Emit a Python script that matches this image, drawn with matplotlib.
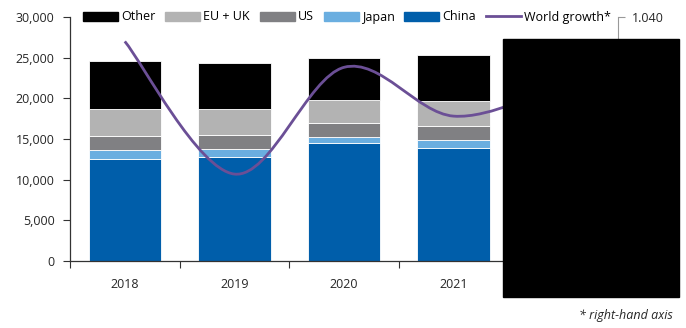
import numpy as np
import matplotlib.pyplot as plt
from matplotlib.path import Path
from matplotlib.patches import PathPatch, Patch, Rectangle
from matplotlib.lines import Line2D
from matplotlib.ticker import FuncFormatter

plt.rcParams['font.family'] = ['Open Sans', 'DejaVu Sans']
plt.rcParams['font.size'] = 9

# data (2022 sits under the redaction box)
years = ['2018', '2019', '2020', '2021', '2022']
china = [12600, 12800, 14450, 13950, 14000]
japan = [1000, 970, 850, 900, 850]
us = [1800, 1730, 1700, 1800, 1800]
eu_uk = [3250, 3150, 2800, 3050, 3000]
other = [5900, 5750, 5200, 5650, 5600]
world_growth = [1.032, 0.9885, 1.0235, 1.0075, 1.018]

series = [('China', china, '#005eaa'),
          ('Japan', japan, '#6aaee0'),
          ('US', us, '#808083'),
          ('EU + UK', eu_uk, '#b3b3b3'),
          ('Other', other, '#000000')]
line_color = '#6b4f96'

fig = plt.figure(figsize=(6.86, 3.28), dpi=100)
ax = fig.add_axes([70 / 686, 1 - 261 / 328, 548 / 686, 244 / 328])
x = np.arange(len(years))

bottom = np.zeros(len(years))
for name, vals, col in series:
    ax.bar(x, vals, 0.66, bottom=bottom, color=col, edgecolor='white', linewidth=0.6)
    bottom += np.array(vals)

ax.set_xlim(-0.5, len(years) - 0.5)
ax.set_ylim(0, 30000)
ax.set_yticks(range(0, 30001, 5000))
ax.yaxis.set_major_formatter(FuncFormatter(lambda v, p: f'{int(v):,}'))
ax.set_xticks(x)
ax.set_xticklabels(years)
ax.set_xticks(np.arange(-0.5, len(years), 1), minor=True)
ax.tick_params(axis='x', which='major', length=0, pad=12, colors='#262626')
ax.tick_params(axis='x', which='minor', length=5, width=0.8, color='#333333')
ax.tick_params(axis='y', length=5, width=0.8, color='#333333', labelcolor='#262626', pad=6)
for s in ['top', 'right']:
    ax.spines[s].set_visible(False)
for s in ['left', 'bottom']:
    ax.spines[s].set_color('#333333')
    ax.spines[s].set_linewidth(0.9)

# right-hand axis with smoothed world growth line
ax2 = ax.twinx()
ax2.set_ylim(0.96, 1.04)
ax2.set_yticks(np.arange(0.96, 1.0401, 0.02))
ax2.yaxis.set_major_formatter(FuncFormatter(lambda v, p: f'{v:.3f}'))
ax2.tick_params(axis='y', length=5, width=0.8, color='#999999', labelcolor='#262626', pad=5)
for s in ['top', 'left', 'bottom']:
    ax2.spines[s].set_visible(False)
ax2.spines['right'].set_color('#999999')

pts = np.column_stack([x, world_growth]).astype(float)
verts = [pts[0]]
codes = [Path.MOVETO]
n = len(pts)
for i in range(n - 1):
    p0 = pts[max(i - 1, 0)]
    p1 = pts[i]
    p2 = pts[i + 1]
    p3 = pts[min(i + 2, n - 1)]
    verts += [p1 + (p2 - p0) / 6, p2 - (p3 - p1) / 6, p2]
    codes += [Path.CURVE4] * 3
ax2.add_patch(PathPatch(Path(verts, codes), fill=False, edgecolor=line_color, linewidth=2))

handles = [Patch(color=c) for _, _, c in series[::-1]]
labels = [nm for nm, _, _ in series[::-1]]
handles.append(Line2D([], [], color=line_color, linewidth=2))
labels.append('World growth*')
fig.legend(handles, labels, loc='center', bbox_to_anchor=(347 / 686, 1 - 17 / 328),
           ncol=6, frameon=False, handlelength=2.8, handleheight=0.7,
           handletextpad=0.25, columnspacing=0.78, borderaxespad=0, fontsize=9)

# redaction box
fig.add_artist(Rectangle((503 / 686, 1 - 297 / 328), 176 / 686, 258 / 328,
                         transform=fig.transFigure, color='black', zorder=10))

fig.text(673 / 686, 1 - 316 / 328, '* right-hand axis', ha='right', va='center',
         style='italic', fontsize=9, color='#262626')

fig.savefig('out.png', dpi=100)
